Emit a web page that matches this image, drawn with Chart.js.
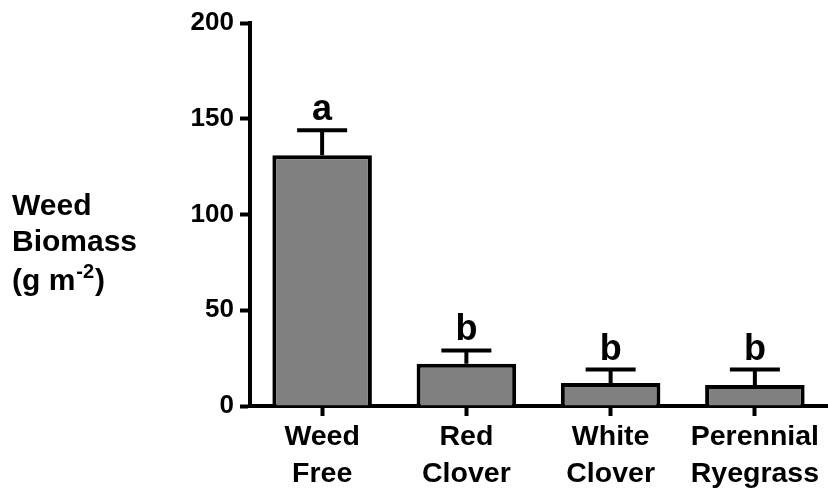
<!DOCTYPE html>
<html>
<head>
<meta charset="utf-8">
<script src="https://cdn.jsdelivr.net/npm/chart.js@4"></script>
<style>
  body { margin: 0; background: #fff; }
  #wrap { width: 828px; height: 489px; }
</style>
</head>
<body>
<div id="wrap"><canvas id="chart" width="828" height="489"></canvas></div>
<script>
// data
const categories = [['Weed', 'Free'], ['Red', 'Clover'], ['White', 'Clover'], ['Perennial', 'Ryegrass']];
const biomass = [131, 22, 12, 11];
const errors = [13, 7, 7, 8];
const letters = ['a', 'b', 'b', 'b'];
const yTicks = [0, 50, 100, 150, 200];

const FONT = '"Liberation Sans", Arial, sans-serif';

// error bars + significance letters
const errorBars = {
  id: 'errorBars',
  afterDatasetsDraw(chart) {
    const ctx = chart.ctx;
    const x = chart.scales.x, y = chart.scales.y;
    ctx.save();
    ctx.strokeStyle = '#000';
    ctx.lineWidth = 4;
    ctx.lineCap = 'butt';
    biomass.forEach((v, i) => {
      const cx = x.getPixelForValue(i);
      const yTop = y.getPixelForValue(v + errors[i]);
      const yBar = y.getPixelForValue(v);
      ctx.beginPath();
      ctx.moveTo(cx, yBar);
      ctx.lineTo(cx, yTop);
      ctx.moveTo(cx - 25, yTop);
      ctx.lineTo(cx + 25, yTop);
      ctx.stroke();
      ctx.fillStyle = '#000';
      ctx.font = 'bold 36px ' + FONT;
      ctx.textAlign = 'center';
      ctx.textBaseline = 'alphabetic';
      ctx.fillText(letters[i], cx, yTop - 10);
    });
    ctx.restore();
  }
};

// y axis title, three lines with superscript
const yTitle = {
  id: 'yTitle',
  afterDraw(chart) {
    const ctx = chart.ctx;
    ctx.save();
    ctx.fillStyle = '#000';
    ctx.textAlign = 'left';
    ctx.textBaseline = 'alphabetic';
    ctx.font = 'bold 30px ' + FONT;
    ctx.fillText('Weed', 12, 215);
    ctx.fillText('Biomass', 12, 251);
    let t = '(g m';
    ctx.fillText(t, 12, 290);
    let w = ctx.measureText(t).width;
    ctx.font = 'bold 20px ' + FONT;
    ctx.fillText('-2', 12 + w + 1, 278);
    let w2 = ctx.measureText('-2').width;
    ctx.font = 'bold 30px ' + FONT;
    ctx.fillText(')', 12 + w + w2 + 2, 290);
    ctx.restore();
  }
};

new Chart(document.getElementById('chart'), {
  type: 'bar',
  data: {
    labels: categories,
    datasets: [{
      data: biomass,
      backgroundColor: '#808080',
      borderColor: '#000',
      borderWidth: 4,
      categoryPercentage: 1,
      barPercentage: 0.69
    }]
  },
  options: {
    responsive: false,
    animation: false,
    layout: { padding: { top: 23, right: 1, left: 0, bottom: 0 } },
    plugins: { legend: { display: false }, tooltip: { enabled: false } },
    scales: {
      y: {
        min: 0,
        max: 200,
        afterFit(scale) { scale.width = 250; },
        afterBuildTicks(scale) { scale.ticks = yTicks.map(v => ({ value: v })); },
        border: { color: '#000', width: 4 },
        grid: { drawOnChartArea: false, drawTicks: true, tickLength: 10, tickColor: '#000', tickWidth: 4 },
        ticks: { color: '#000', padding: 6, font: { family: FONT, size: 26, weight: 'bold' } }
      },
      x: {
        afterFit(scale) { scale.height = 83; },
        border: { color: '#000', width: 4 },
        grid: { offset: false, drawOnChartArea: false, drawTicks: true, tickLength: 10, tickColor: '#000', tickWidth: 4 },
        ticks: { color: '#000', padding: 3, maxRotation: 0, autoSkip: false,
                 font: { family: FONT, size: 28.5, weight: 'bold', lineHeight: 1.3 } }
      }
    }
  },
  plugins: [errorBars, yTitle]
});
</script>
</body>
</html>
